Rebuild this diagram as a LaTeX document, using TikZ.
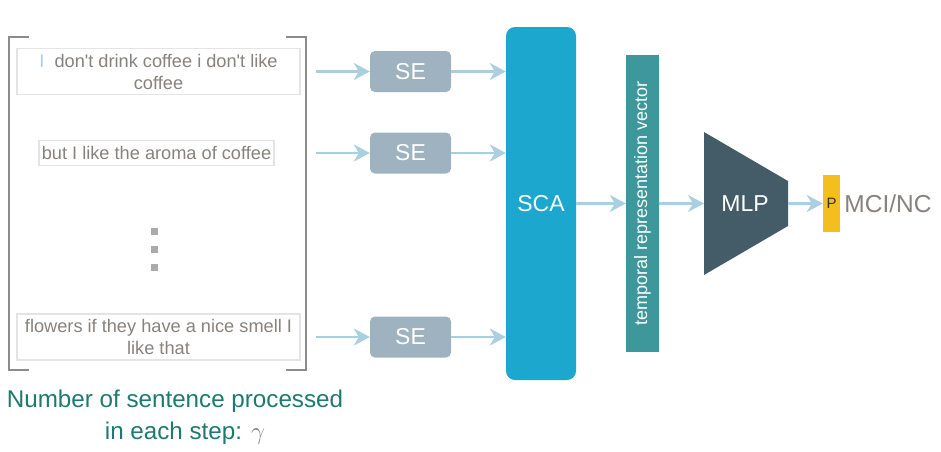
\documentclass[tikz,border=0pt]{standalone}
\usepackage{fontspec}
\setmainfont{Liberation Sans}
\usetikzlibrary{arrows.meta}
\definecolor{sentgray}{RGB}{135,130,126}
\definecolor{boxgray}{RGB}{228,228,228}
\definecolor{framegray}{RGB}{140,140,140}
\definecolor{dotgray}{RGB}{170,170,170}
\definecolor{arrblue}{RGB}{170,207,224}
\definecolor{segray}{RGB}{158,178,191}
\definecolor{scablue}{RGB}{28,167,206}
\definecolor{vecteal}{RGB}{62,152,155}
\definecolor{mlpgray}{RGB}{68,92,104}
\definecolor{pyellow}{RGB}{243,190,30}
\definecolor{labteal}{RGB}{30,122,112}
\definecolor{gammagray}{RGB}{128,128,128}
\newcommand{\apos}{\textquotesingle}

\begin{document}
\begin{tikzpicture}[x=1pt,y=-1pt,
    sent/.style={draw=boxgray,line width=1.5pt,inner sep=0pt,align=center,
      text=sentgray,font=\fontsize{18.2}{22}\selectfont},
    enc/.style={fill=segray,rounded corners=5pt,minimum width=81pt,
      minimum height=41pt,text=white,font=\fontsize{23}{26}\selectfont},
    arr/.style={-{Stealth[length=16pt,width=17pt,inset=5pt]},
      line width=2.5pt,draw=arrblue},
    dot/.style={fill=dotgray,minimum size=7pt,inner sep=0pt}]
    \useasboundingbox (0,0) rectangle (941,451);
    % sentences
    \draw [framegray,line width=1.2pt] (29,37) -- (9,37) -- (9,370) -- (29,370);
    \draw [framegray,line width=1.2pt] (286,37) -- (306,37) -- (306,370) -- (286,370);
    \path (158.5,71.5) node [sent,minimum width=283pt,minimum height=46pt] (sent1)
	{{\color{arrblue}I}\ \ don\apos t drink coffee i don\apos t like\\coffee};
    \path (156.5,153) node [sent,minimum width=235pt,minimum height=25pt] (sent2)
	{but I like the aroma of coffee};
    \path (158.5,337) node [sent,minimum width=283pt,minimum height=46pt] (sent3)
	{flowers if they have a nice smell I\\like that};
    \path (154,231) node [dot] (dot1) {};
    \path (154,249) node [dot] (dot2) {};
    \path (154,267) node [dot] (dot3) {};
    \path (175,417) node [align=center,text=labteal,font=\fontsize{24.2}{32}\selectfont]
	(steps) {Number of sentence processed\\
	\hspace*{20pt}in each step: {\color{gammagray}$\gamma$}};
    % encoders
    \path (410.5,71.5) node [enc] (se1) {SE};
    \path (410.5,153) node [enc] (se2) {SE};
    \path (410.5,337) node [enc] (se3) {SE};
    \coordinate (in1) at (316,71.5);
    \coordinate (in2) at (316,153);
    \coordinate (in3) at (316,337);
    \draw [arr] (in1) -- (se1);
    \draw [arr] (in2) -- (se2);
    \draw [arr] (in3) -- (se3);
    % attention and classifier
    \path (541,203.5) node [fill=scablue,rounded corners=9pt,minimum width=70pt,
	minimum height=353pt,text=white,font=\fontsize{23}{26}\selectfont] (sca) {SCA};
    \path (642.5,203.5) node [fill=vecteal,rotate=90,minimum width=297pt,
	minimum height=33pt,inner sep=0pt,text=white,font=\fontsize{18}{22}\selectfont]
	(vec) {temporal representation vector};
    \draw [arr] (se1) -- (se1 -| sca.west);
    \draw [arr] (se2) -- (se2 -| sca.west);
    \draw [arr] (se3) -- (se3 -| sca.west);
    \draw [arr] (sca) -- (vec);
    \fill [mlpgray] (704,132) -- (788,181) -- (788,226) -- (704,275) -- cycle;
    \path (745,203.5) node [text=white,font=\fontsize{23}{26}\selectfont] (mlp) {MLP};
    \coordinate (mlpin) at (704,203.5);
    \coordinate (mlpout) at (788,203.5);
    \path (831.5,203.5) node [fill=pyellow,minimum width=17pt,minimum height=57pt,
	inner sep=0pt,text=black!80,font=\fontsize{15}{17}\selectfont] (p) {P};
    \path (p.east) node [anchor=west,inner sep=4pt,text=sentgray,
	font=\fontsize{24.5}{26}\selectfont] (out) {MCI/NC};
    \draw [arr] (vec) -- (mlpin);
    \draw [arr] (mlpout) -- (p);
\end{tikzpicture}
\end{document}
